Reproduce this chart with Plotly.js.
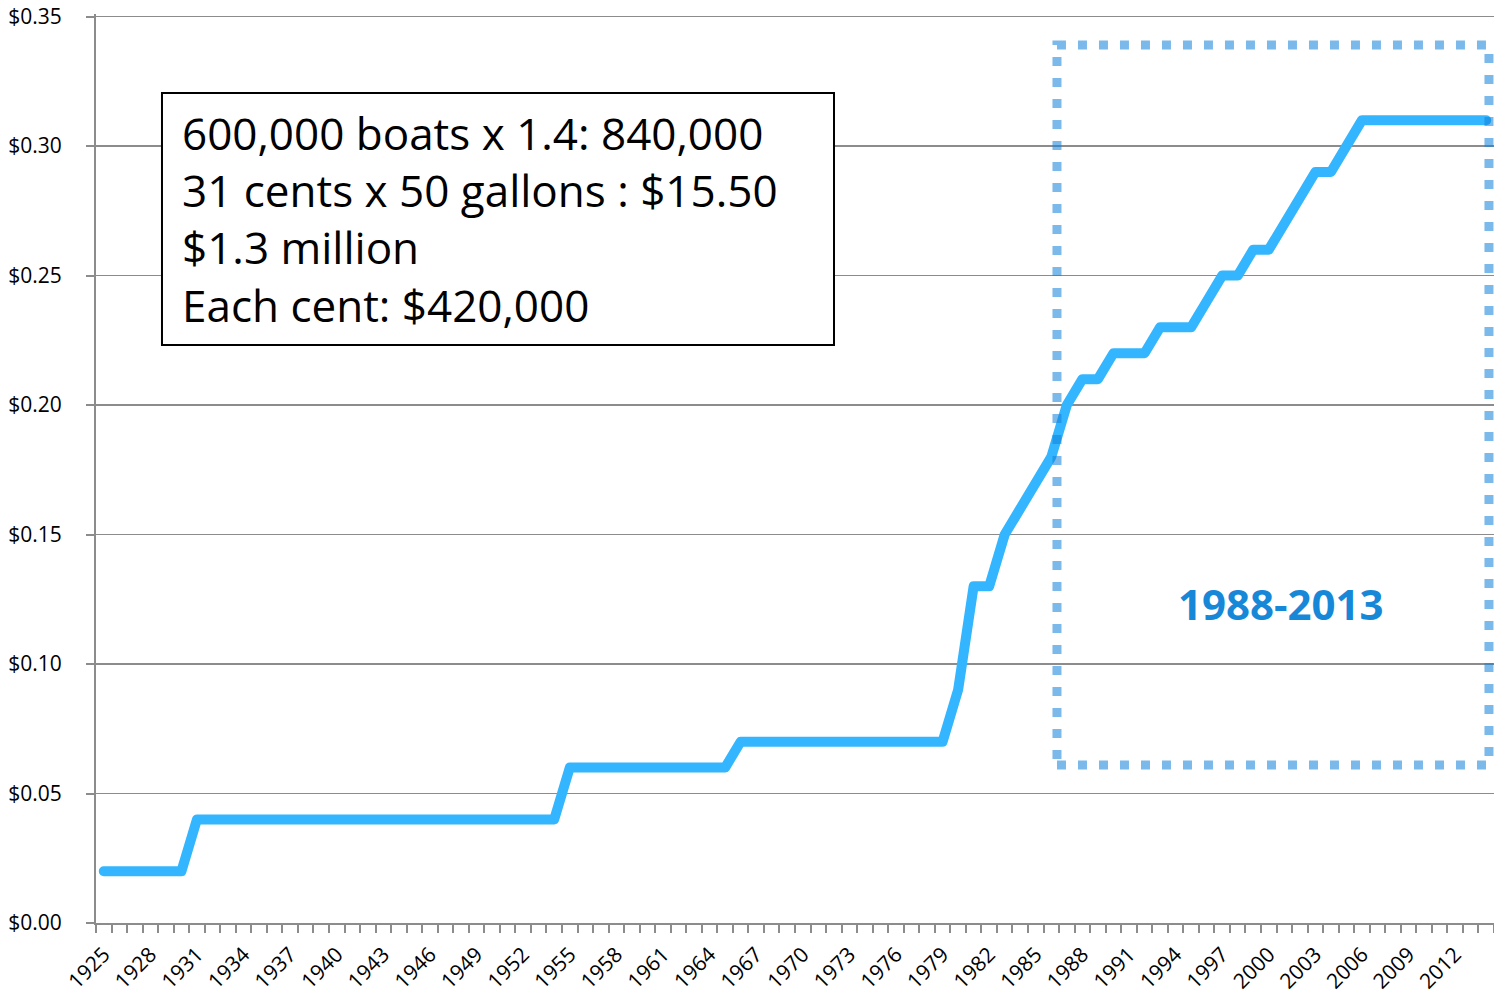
<!DOCTYPE html>
<html>
<head>
<meta charset="utf-8">
<script src="https://cdn.plot.ly/plotly-3.0.1.min.js"></script>
<style>
  html, body { margin: 0; padding: 0; background: #fff; }
  #chart { width: 1494px; height: 999px; }
  .scatterlayer .js-line { stroke-linecap: round; stroke-linejoin: round; }
</style>
</head>
<body>
<div id="chart"></div>
<script>
// Years (categories)
const years = [
  1925,1926,1927,1928,1929,1930,1931,1932,1933,1934,1935,1936,1937,1938,1939,
  1940,1941,1942,1943,1944,1945,1946,1947,1948,1949,1950,1951,1952,1953,1954,
  1955,1956,1957,1958,1959,1960,1961,1962,1963,1964,1965,1966,1967,1968,1969,
  1970,1971,1972,1973,1974,1975,1976,1977,1978,1979,1980,1981,1982,1983,1984,
  1985,1986,1987,1988,1989,1990,1991,1992,1993,1994,1995,1996,1997,1998,1999,
  2000,2001,2002,2003,2004,2005,2006,2007,2008,2009,2010,2011,2012,2013,2014
];
// Tax per gallon ($)
const taxPerGallon = [
  0.02,0.02,0.02,0.02,0.02,0.02,0.04,0.04,0.04,0.04,0.04,0.04,0.04,0.04,0.04,
  0.04,0.04,0.04,0.04,0.04,0.04,0.04,0.04,0.04,0.04,0.04,0.04,0.04,0.04,0.04,
  0.06,0.06,0.06,0.06,0.06,0.06,0.06,0.06,0.06,0.06,0.06,0.07,0.07,0.07,0.07,
  0.07,0.07,0.07,0.07,0.07,0.07,0.07,0.07,0.07,0.07,0.09,0.13,0.13,0.15,0.16,
  0.17,0.18,0.20,0.21,0.21,0.22,0.22,0.22,0.23,0.23,0.23,0.24,0.25,0.25,0.26,
  0.26,0.27,0.28,0.29,0.29,0.30,0.31,0.31,0.31,0.31,0.31,0.31,0.31,0.31,0.31
];
// Labelled years (every third)
const tickYears = years.filter((y, i) => i % 3 === 0);
const tickLabels = tickYears.map(String);
// Y tick values
const yTicks = [0, 0.05, 0.10, 0.15, 0.20, 0.25, 0.30, 0.35];
const yTickLabels = ["$0.00", "$0.05", "$0.10", "$0.15", "$0.20", "$0.25", "$0.30", "$0.35"];

const noteLines = [
  "600,000 boats x 1.4: 840,000",
  "31 cents x 50 gallons : $15.50",
  "$1.3 million",
  "Each cent: $420,000"
];
const periodLabel = "1988-2013";

const gray = '#8c8c8c';
const fontFamily = '"Open Sans", "DejaVu Sans", sans-serif';

const trace = {
  x: years,
  y: taxPerGallon,
  type: 'scatter',
  mode: 'lines',
  line: { color: '#33b6ff', width: 10, shape: 'linear' },
  hoverinfo: 'x+y'
};

const layout = {
  width: 1494,
  height: 999,
  margin: { l: 96, r: 0, t: 14, b: 76 },
  paper_bgcolor: '#fff',
  plot_bgcolor: '#fff',
  showlegend: false,
  font: { family: fontFamily, color: '#000' },
  xaxis: {
    range: [1924.5, 2014.5],
    tickmode: 'array',
    tickvals: tickYears,
    ticktext: tickLabels,
    tickangle: -45,
    ticks: '',
    ticklabelstandoff: 9,
    ticklabeloverflow: 'allow',
    tickfont: { size: 21, family: fontFamily, color: '#000' },
    showgrid: false,
    zeroline: false,
    showline: true,
    linecolor: gray,
    linewidth: 2,
    minor: { dtick: 1, tick0: 1924.5, ticks: 'outside', ticklen: 8, tickcolor: gray, tickwidth: 2, showgrid: false },
    fixedrange: true
  },
  yaxis: {
    range: [0, 0.351],
    tickmode: 'array',
    tickvals: yTicks,
    ticktext: yTickLabels,
    ticks: 'outside',
    ticklen: 8,
    tickcolor: gray,
    tickwidth: 2,
    ticklabelstandoff: 20,
    ticklabeloverflow: 'allow',
    tickfont: { size: 21, family: fontFamily, color: '#000' },
    showgrid: true,
    gridcolor: gray,
    gridwidth: 1.6,
    zeroline: false,
    showline: true,
    linecolor: gray,
    linewidth: 2,
    fixedrange: true
  },
  shapes: [
    {
      type: 'rect', xref: 'paper', yref: 'paper',
      x0: 0.0472, x1: 0.5279, y0: 0.6359, y1: 0.9131,
      line: { color: '#000', width: 2 },
      fillcolor: '#fff', layer: 'above'
    },
    {
      type: 'rect', xref: 'paper', yref: 'paper',
      x0: 0.6874, x1: 0.9964, y0: 0.1738, y1: 0.9659,
      line: { color: 'rgba(20,130,220,0.56)', width: 9, dash: '9px,12px' },
      fillcolor: 'rgba(0,0,0,0)', layer: 'above'
    }
  ],
  annotations: [
    {
      xref: 'paper', yref: 'paper',
      x: 0.0600, y: 0.7745,
      xanchor: 'left', yanchor: 'middle',
      align: 'left',
      showarrow: false,
      text: noteLines.join('<br>'),
      font: { size: 44, family: fontFamily, color: '#000' }
    },
    {
      xref: 'paper', yref: 'paper',
      x: 0.8476, y: 0.352,
      xanchor: 'center', yanchor: 'middle',
      showarrow: false,
      text: '<b>' + periodLabel + '</b>',
      font: { size: 42, family: fontFamily, color: '#1788d8' }
    }
  ]
};

Plotly.newPlot('chart', [trace], layout, { displayModeBar: false, staticPlot: true });
</script>
</body>
</html>
